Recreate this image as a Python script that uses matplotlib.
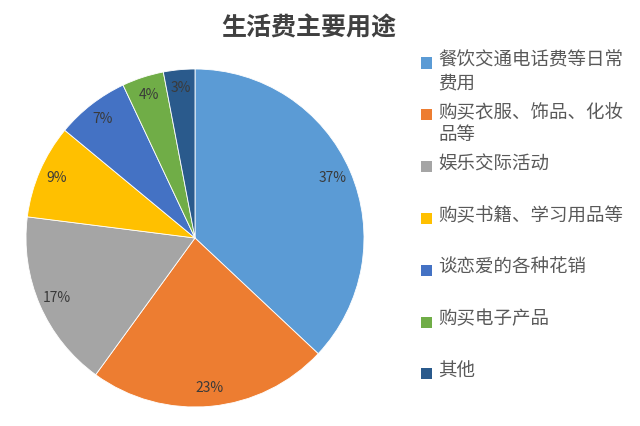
import matplotlib
matplotlib.use('Agg')
import matplotlib.pyplot as plt
from matplotlib.patches import Rectangle

plt.rcParams['font.family'] = ['Noto Sans CJK SC', 'DejaVu Sans']

# 数据
labels = ['餐饮交通电话费等日常\n费用', '购买衣服、饰品、化妆\n品等', '娱乐交际活动',
          '购买书籍、学习用品等', '谈恋爱的各种花销', '购买电子产品', '其他']
values = [37, 23, 17, 9, 7, 4, 3]
colors = ['#5B9BD5', '#ED7D31', '#A5A5A5', '#FFC000', '#4472C4', '#70AD47', '#2A5A8C']

W, H = 640, 426
fig = plt.figure(figsize=(6.4, 4.26), dpi=100)
fig.patch.set_facecolor('white')

# 饼图区域 (中心约在 195,238 像素, 半径约 169 像素)
cx, cy, r = 195, 238, 169
ax = fig.add_axes([(cx - r) / W, (H - cy - r) / H, 2 * r / W, 2 * r / H])
wedges, texts, autotexts = ax.pie(values, colors=colors, startangle=90, counterclock=False,
                                  autopct='%d%%', pctdistance=0.89, radius=1,
                                  wedgeprops=dict(edgecolor='white', linewidth=0.6),
                                  textprops=dict(fontsize=10, color='#3A3A3A'))
ax.set_xlim(-1, 1)
ax.set_ylim(-1, 1)
ax.set_aspect('equal')

# 标题
fig.text(309 / W, 1 - 28 / H, '生活费主要用途', ha='center', va='center',
         fontsize=18, fontweight='bold', color='#404040')

# 图例 (手动绘制)
y = 63
step = 51.8
for lab, c in zip(labels, colors):
    fig.patches.append(Rectangle((421 / W, 1 - (y + 5.5) / H), 11 / W, 11 / H,
                                 transform=fig.transFigure, facecolor=c, edgecolor='none'))
    fig.text(438 / W, 1 - (y - 11.5) / H, lab, ha='left', va='top', fontsize=13.3,
             color='#595959', linespacing=1.33)
    y += step

fig.savefig('out.png', dpi=100)
